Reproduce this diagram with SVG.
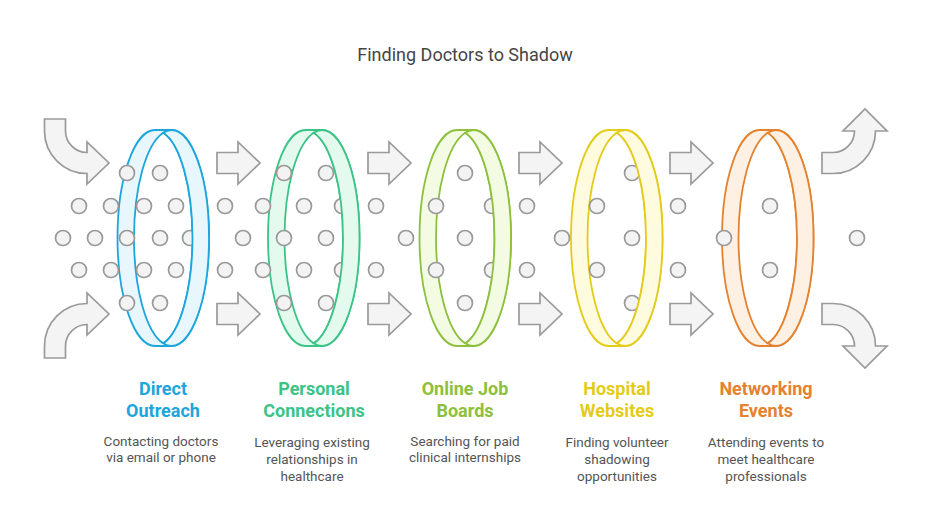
<svg xmlns="http://www.w3.org/2000/svg" width="931" height="531" viewBox="0 0 931 531">
<defs>
<style>
.bg{fill:#ffffff}
.title{font-family:Roboto,"Liberation Sans",sans-serif;font-size:18px;fill:#454545;text-anchor:middle}
.lbl{font-family:Roboto,"Liberation Sans",sans-serif;font-size:18px;font-weight:bold;text-anchor:middle}
.desc{font-family:Roboto,"Liberation Sans",sans-serif;font-size:13.5px;fill:#555555;text-anchor:middle}
.arr{fill:#f4f4f4;stroke:#9a9a9a;stroke-width:1.7;stroke-linejoin:miter}
.dot{fill:#f3f3f3;stroke:#999999;stroke-width:1.7}
.ring{stroke-width:1.8}
.lens{fill:#ffffff}
.c1{stroke:#1ca6dc}.f1{fill:#e7f7fd}
.c2{stroke:#3cc386}.f2{fill:#e4faef}
.c3{stroke:#8cc03d}.f3{fill:#f3fce2}
.c4{stroke:#e3cb19}.f4{fill:#fffbdf}
.c5{stroke:#e3822f}.f5{fill:#fef0e3}
.t1{fill:#1ca6dc}.t2{fill:#3cc386}.t3{fill:#8cc03d}.t4{fill:#e3cb19}.t5{fill:#e3822f}
</style>
<path id="band" d="M0,-108 L16.5,-108 A37.5 108 0 0 1 16.5,108 L0,108 A37.5 108 0 0 1 0,-108 Z"/>
<path id="lensp" d="M8.25,-105.35 A37.5 108 0 0 0 8.25,105.35 A37.5 108 0 0 0 8.25,-105.35 Z"/>
<path id="front" d="M8.25,-105.35 A37.5 108 0 0 1 8.25,105.35 A37.5 108 0 1 0 8.25,-105.35 Z"/>
<path id="sarrow" d="M0,-10.5 L21,-10.5 L21,-21 L43,0 L21,21 L21,10.5 L0,10.5 Z"/>
</defs>
<rect class="bg" x="0" y="0" width="931" height="531"/>
<text class="title" x="465" y="61">Finding Doctors to Shadow</text>

<g id="connectors">
<path class="arr" d="M44.5,119 L65.5,119 L65.5,131 A21.5 21.5 0 0 0 87,152.5 L87,142 L109,163 L87,184 L87,173.5 A42.5 42.5 0 0 1 44.5,131 Z"/>
<path class="arr" d="M44.5,358 L65.5,358 L65.5,346 A21.5 21.5 0 0 1 87,324.5 L87,335 L109,314 L87,293 L87,303.5 A42.5 42.5 0 0 0 44.5,346 Z"/>
<use href="#sarrow" class="arr" transform="translate(217,163)"/>
<use href="#sarrow" class="arr" transform="translate(217,314)"/>
<use href="#sarrow" class="arr" transform="translate(368,163)"/>
<use href="#sarrow" class="arr" transform="translate(368,314)"/>
<use href="#sarrow" class="arr" transform="translate(519,163)"/>
<use href="#sarrow" class="arr" transform="translate(519,314)"/>
<use href="#sarrow" class="arr" transform="translate(670,163)"/>
<use href="#sarrow" class="arr" transform="translate(670,314)"/>
<path class="arr" d="M822,152.5 L833,152.5 A21.5 21.5 0 0 0 854.5,131 L843,131 L865,109 L887,131 L875.5,131 A42.5 42.5 0 0 1 833,173.5 L822,173.5 Z"/>
<path class="arr" d="M822,324.5 L833,324.5 A21.5 21.5 0 0 1 854.5,346 L843,346 L865,368 L887,346 L875.5,346 A42.5 42.5 0 0 0 833,303.5 L822,303.5 Z"/>
</g>

<g id="rings-back">
<g transform="translate(155,238)"><use href="#band" class="ring c1 f1"/><use href="#lensp" class="ring lens c1"/></g>
<g transform="translate(305.5,238)"><use href="#band" class="ring c2 f2"/><use href="#lensp" class="ring lens c2"/></g>
<g transform="translate(457,238)"><use href="#band" class="ring c3 f3"/><use href="#lensp" class="ring lens c3"/></g>
<g transform="translate(608.5,238)"><use href="#band" class="ring c4 f4"/><use href="#lensp" class="ring lens c4"/></g>
<g transform="translate(759.5,238)"><use href="#band" class="ring c5 f5"/><use href="#lensp" class="ring lens c5"/></g>
</g>

<g id="particles">
<circle class="dot" cx="127" cy="173" r="7.5"/><circle class="dot" cx="160" cy="173" r="7.5"/>
<circle class="dot" cx="284" cy="173" r="7.5"/><circle class="dot" cx="326" cy="173" r="7.5"/>
<circle class="dot" cx="465" cy="173" r="7.5"/><circle class="dot" cx="632" cy="173" r="7.5"/>
<circle class="dot" cx="127" cy="303" r="7.5"/><circle class="dot" cx="160" cy="303" r="7.5"/>
<circle class="dot" cx="284" cy="303" r="7.5"/><circle class="dot" cx="326" cy="303" r="7.5"/>
<circle class="dot" cx="465" cy="303" r="7.5"/><circle class="dot" cx="632" cy="303" r="7.5"/>
<circle class="dot" cx="79" cy="206" r="7.5"/><circle class="dot" cx="111" cy="206" r="7.5"/>
<circle class="dot" cx="144" cy="206" r="7.5"/><circle class="dot" cx="176" cy="206" r="7.5"/>
<circle class="dot" cx="225" cy="206" r="7.5"/><circle class="dot" cx="263" cy="206" r="7.5"/>
<circle class="dot" cx="304" cy="206" r="7.5"/><circle class="dot" cx="342" cy="206" r="7.5"/>
<circle class="dot" cx="376" cy="206" r="7.5"/><circle class="dot" cx="436" cy="206" r="7.5"/>
<circle class="dot" cx="492" cy="206" r="7.5"/><circle class="dot" cx="527" cy="206" r="7.5"/>
<circle class="dot" cx="597" cy="206" r="7.5"/><circle class="dot" cx="678" cy="206" r="7.5"/>
<circle class="dot" cx="770" cy="206" r="7.5"/>
<circle class="dot" cx="79" cy="270" r="7.5"/><circle class="dot" cx="111" cy="270" r="7.5"/>
<circle class="dot" cx="144" cy="270" r="7.5"/><circle class="dot" cx="176" cy="270" r="7.5"/>
<circle class="dot" cx="225" cy="270" r="7.5"/><circle class="dot" cx="263" cy="270" r="7.5"/>
<circle class="dot" cx="304" cy="270" r="7.5"/><circle class="dot" cx="342" cy="270" r="7.5"/>
<circle class="dot" cx="376" cy="270" r="7.5"/><circle class="dot" cx="436" cy="270" r="7.5"/>
<circle class="dot" cx="492" cy="270" r="7.5"/><circle class="dot" cx="527" cy="270" r="7.5"/>
<circle class="dot" cx="597" cy="270" r="7.5"/><circle class="dot" cx="678" cy="270" r="7.5"/>
<circle class="dot" cx="770" cy="270" r="7.5"/>
<circle class="dot" cx="63" cy="238" r="7.5"/><circle class="dot" cx="95" cy="238" r="7.5"/>
<circle class="dot" cx="127" cy="238" r="7.5"/><circle class="dot" cx="160" cy="238" r="7.5"/>
<circle class="dot" cx="190" cy="238" r="7.5"/><circle class="dot" cx="243" cy="238" r="7.5"/>
<circle class="dot" cx="284" cy="238" r="7.5"/><circle class="dot" cx="326" cy="238" r="7.5"/>
<circle class="dot" cx="406" cy="238" r="7.5"/><circle class="dot" cx="465" cy="238" r="7.5"/>
<circle class="dot" cx="562" cy="238" r="7.5"/><circle class="dot" cx="632" cy="238" r="7.5"/>
<circle class="dot" cx="724" cy="238" r="7.5"/><circle class="dot" cx="857" cy="238" r="7.5"/>
</g>

<g id="node-direct-outreach">
<use href="#front" class="ring c1 f1" transform="translate(155,238)"/>
<text class="lbl t1" x="163" y="395">Direct</text>
<text class="lbl t1" x="163" y="417">Outreach</text>
<text class="desc" x="161" y="446">Contacting doctors</text>
<text class="desc" x="161" y="462">via email or phone</text>
</g>
<g id="node-personal-connections">
<use href="#front" class="ring c2 f2" transform="translate(305.5,238)"/>
<text class="lbl t2" x="314" y="395">Personal</text>
<text class="lbl t2" x="314" y="417">Connections</text>
<text class="desc" x="312" y="447">Leveraging existing</text>
<text class="desc" x="312" y="464">relationships in</text>
<text class="desc" x="312" y="481">healthcare</text>
</g>
<g id="node-online-job-boards">
<use href="#front" class="ring c3 f3" transform="translate(457,238)"/>
<text class="lbl t3" x="465" y="395">Online Job</text>
<text class="lbl t3" x="465" y="417">Boards</text>
<text class="desc" x="465" y="446">Searching for paid</text>
<text class="desc" x="465" y="462">clinical internships</text>
</g>
<g id="node-hospital-websites">
<use href="#front" class="ring c4 f4" transform="translate(608.5,238)"/>
<text class="lbl t4" x="617" y="395">Hospital</text>
<text class="lbl t4" x="617" y="417">Websites</text>
<text class="desc" x="617" y="447">Finding volunteer</text>
<text class="desc" x="617" y="464">shadowing</text>
<text class="desc" x="617" y="481">opportunities</text>
</g>
<g id="node-networking-events">
<use href="#front" class="ring c5 f5" transform="translate(759.5,238)"/>
<text class="lbl t5" x="766" y="395">Networking</text>
<text class="lbl t5" x="766" y="417">Events</text>
<text class="desc" x="766" y="447">Attending events to</text>
<text class="desc" x="766" y="464">meet healthcare</text>
<text class="desc" x="766" y="481">professionals</text>
</g>
</svg>
